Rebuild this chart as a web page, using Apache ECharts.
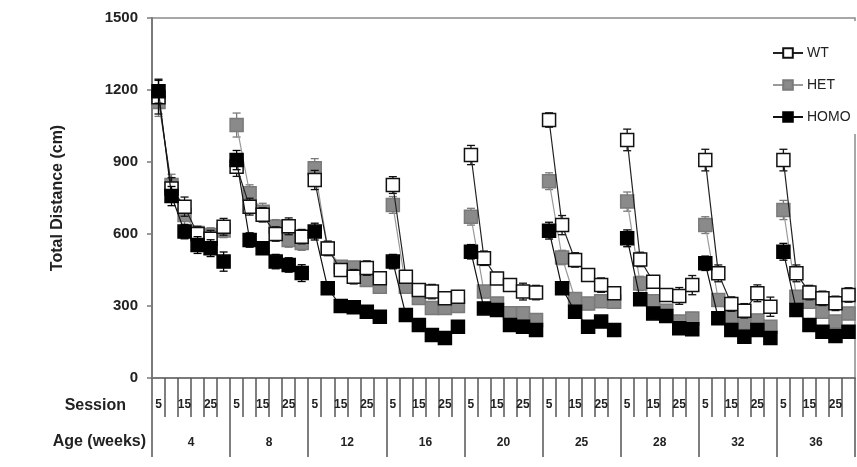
<!DOCTYPE html>
<html>
<head>
<meta charset="utf-8">
<script src="https://cdn.jsdelivr.net/npm/echarts@6/dist/echarts.min.js"></script>
<style>
  html, body { margin: 0; padding: 0; background: #fff; }
  #chart { width: 857px; height: 467px; }
</style>
</head>
<body>
<div id="chart"></div>
<script>
// Sessions within each age block, and the ages (weeks) of testing
const sessions = [5, 10, 15, 20, 25, 30];
const ages = ['4', '8', '12', '16', '20', '25', '28', '32', '36'];
const sessionLabels = ['5', '15', '25'];

// Mean total distance (cm), 6 sessions per age block
const wt = [
  1170, 790, 714, 600, 580, 630,
  880, 714, 680, 600, 632, 589,
  825, 540, 450, 422, 458, 416,
  804, 422, 367, 360, 332, 339,
  929, 499, 415, 387, 360, 356,
  1075, 637, 492, 429, 387, 353,
  992, 494, 401, 346, 342, 387,
  908, 436, 308, 280, 353, 297,
  908, 436, 356, 332, 311, 346
];
const het = [
  1150, 804, 679, 604, 596, 615,
  1054, 770, 693, 630, 575, 562,
  874, 540, 464, 460, 408, 380,
  721, 380, 333, 292, 292, 300,
  672, 360, 310, 270, 270, 242,
  820, 502, 329, 310, 320, 318,
  735, 394, 320, 280, 235, 248,
  637, 325, 255, 229, 240, 214,
  700, 339, 318, 276, 235, 269
];
const homo = [
  1195, 758, 610, 554, 541, 485,
  908, 575, 541, 485, 471, 437,
  610, 374, 300, 295, 276, 255,
  485, 262, 221, 179, 167, 214,
  526, 290, 283, 221, 214, 200,
  614, 374, 276, 214, 235, 200,
  582, 328, 269, 258, 207, 203,
  478, 249, 200, 172, 200, 167,
  526, 283, 221, 193, 175, 193
];

// Standard errors
const wtErr = [
  70, 45, 40, 30, 35, 35,
  40, 35, 30, 30, 35, 30,
  40, 30, 25, 30, 30, 25,
  35, 25, 25, 30, 25, 25,
  40, 30, 25, 25, 35, 30,
  30, 40, 30, 25, 30, 25,
  45, 30, 25, 25, 35, 40,
  45, 35, 30, 30, 35, 40,
  45, 35, 30, 30, 30, 30
];
const hetErr = [
  60, 45, 40, 30, 30, 30,
  50, 35, 35, 30, 30, 30,
  40, 30, 25, 25, 25, 25,
  35, 25, 25, 25, 25, 25,
  35, 25, 25, 20, 20, 20,
  35, 30, 25, 25, 25, 25,
  40, 30, 25, 25, 25, 25,
  35, 25, 25, 25, 25, 25,
  40, 25, 25, 25, 25, 25
];
const homoErr = [
  50, 40, 30, 35, 35, 40,
  40, 30, 25, 30, 30, 35,
  35, 25, 20, 20, 20, 20,
  30, 20, 20, 20, 20, 20,
  30, 20, 20, 20, 20, 20,
  35, 25, 20, 20, 20, 20,
  35, 25, 20, 20, 20, 20,
  30, 20, 20, 20, 20, 20,
  35, 25, 20, 20, 20, 20
];

const FONT = 'Arial, "Liberation Sans", sans-serif';

// One category per (age, session) pair
const categories = [];
ages.forEach(a => sessions.forEach(s => categories.push(a + '-' + s)));

const groups = [
  { name: 'WT',   values: wt,   err: wtErr,   fill: '#ffffff', border: '#111111', line: '#222222', z: 4 },
  { name: 'HET',  values: het,  err: hetErr,  fill: '#8a8a8a', border: '#7a7a7a', line: '#9a9a9a', z: 3 },
  { name: 'HOMO', values: homo, err: homoErr, fill: '#000000', border: '#000000', line: '#111111', z: 5 }
];

const series = [];
groups.forEach(g => {
  // error bars drawn under the markers
  series.push({
    type: 'custom',
    name: g.name + ' SEM',
    z: g.z - 0.5,
    silent: true,
    data: g.values.map((v, i) => [i, v, g.err[i]]),
    renderItem: (params, api) => {
      const x = api.value(0), v = api.value(1), e = api.value(2);
      const top = api.coord([x, v + e]);
      const bot = api.coord([x, v - e]);
      const cap = 4;
      const style = { stroke: g.border, lineWidth: 1.3 };
      return {
        type: 'group',
        children: [
          { type: 'line', shape: { x1: top[0], y1: top[1], x2: bot[0], y2: bot[1] }, style },
          { type: 'line', shape: { x1: top[0] - cap, y1: top[1], x2: top[0] + cap, y2: top[1] }, style },
          { type: 'line', shape: { x1: bot[0] - cap, y1: bot[1], x2: bot[0] + cap, y2: bot[1] }, style }
        ]
      };
    }
  });
  // one line per age block so blocks are not joined
  ages.forEach((a, b) => {
    series.push({
      type: 'line',
      name: g.name,
      z: g.z,
      xAxisIndex: 0,
      data: sessions.map((s, k) => [b * 6 + k, g.values[b * 6 + k]]),
      symbol: 'rect',
      symbolSize: 13,
      itemStyle: { color: g.fill, borderColor: g.border, borderWidth: 1.5 },
      lineStyle: { color: g.line, width: 1.2 },
      emphasis: { disabled: true },
      animation: false
    });
  });
});

const chart = echarts.init(document.getElementById('chart'), null, { renderer: 'canvas' });
chart.setOption({
  animation: false,
  backgroundColor: '#fff',
  grid: {
    left: 152, right: 2, top: 18, bottom: 89,
    show: true, borderColor: '#8a8a8a', borderWidth: 1.5, backgroundColor: 'transparent'
  },
  legend: {
    data: ['WT', 'HET', 'HOMO'],
    orient: 'vertical',
    left: 772,
    top: 21,
    padding: [25, 10, 10, 0],
    backgroundColor: '#fff',
    itemWidth: 30,
    itemHeight: 12,
    itemGap: 18,
    textStyle: { fontFamily: FONT, fontSize: 14, color: '#222', padding: [0, 0, 0, -1] }
  },
  xAxis: [
    {
      type: 'category',
      data: categories,
      boundaryGap: true,
      axisLine: { show: true, lineStyle: { color: '#7a7a7a', width: 2 } },
      axisTick: { show: true, length: 39, interval: 0, alignWithLabel: false,
                  lineStyle: { color: '#555', width: 1.5 } },
      axisLabel: {
        interval: 0,
        margin: 21,
        fontFamily: FONT, fontSize: 12, fontWeight: 'bold', color: '#222',
        formatter: v => {
          const s = v.split('-')[1];
          return sessionLabels.indexOf(s) >= 0 ? s : '';
        }
      }
    },
    {
      type: 'category',
      data: ages,
      position: 'bottom',
      boundaryGap: true,
      axisLine: { show: false },
      axisTick: { show: true, length: 79, interval: 0, alignWithLabel: false,
                  lineStyle: { color: '#555', width: 1.5 } },
      axisLabel: {
        interval: 0, margin: 59,
        fontFamily: FONT, fontSize: 12, fontWeight: 'bold', color: '#222'
      }
    }
  ],
  yAxis: {
    type: 'value',
    min: 0, max: 1500, interval: 300,
    name: 'Total Distance (cm)',
    nameLocation: 'middle',
    nameGap: 86,
    nameTextStyle: { fontFamily: FONT, fontSize: 16, fontWeight: 'bold', color: '#222' },
    axisLine: { show: true, lineStyle: { color: '#7a7a7a', width: 2 } },
    axisTick: { show: true, length: 5, lineStyle: { color: '#7a7a7a', width: 1.5 } },
    splitLine: { show: false },
    axisLabel: {
      margin: 14, fontFamily: FONT, fontSize: 15, fontWeight: 'bold', color: '#222',
      formatter: v => String(v)
    }
  },
  graphic: [
    { type: 'text', right: 857 - 126, top: 398,
      style: { text: 'Session', font: 'bold 16px ' + FONT, fill: '#222' } },
    { type: 'text', right: 857 - 146, top: 434,
      style: { text: 'Age (weeks)', font: 'bold 16px ' + FONT, fill: '#222' } }
  ],
  series: series
});
</script>
</body>
</html>
